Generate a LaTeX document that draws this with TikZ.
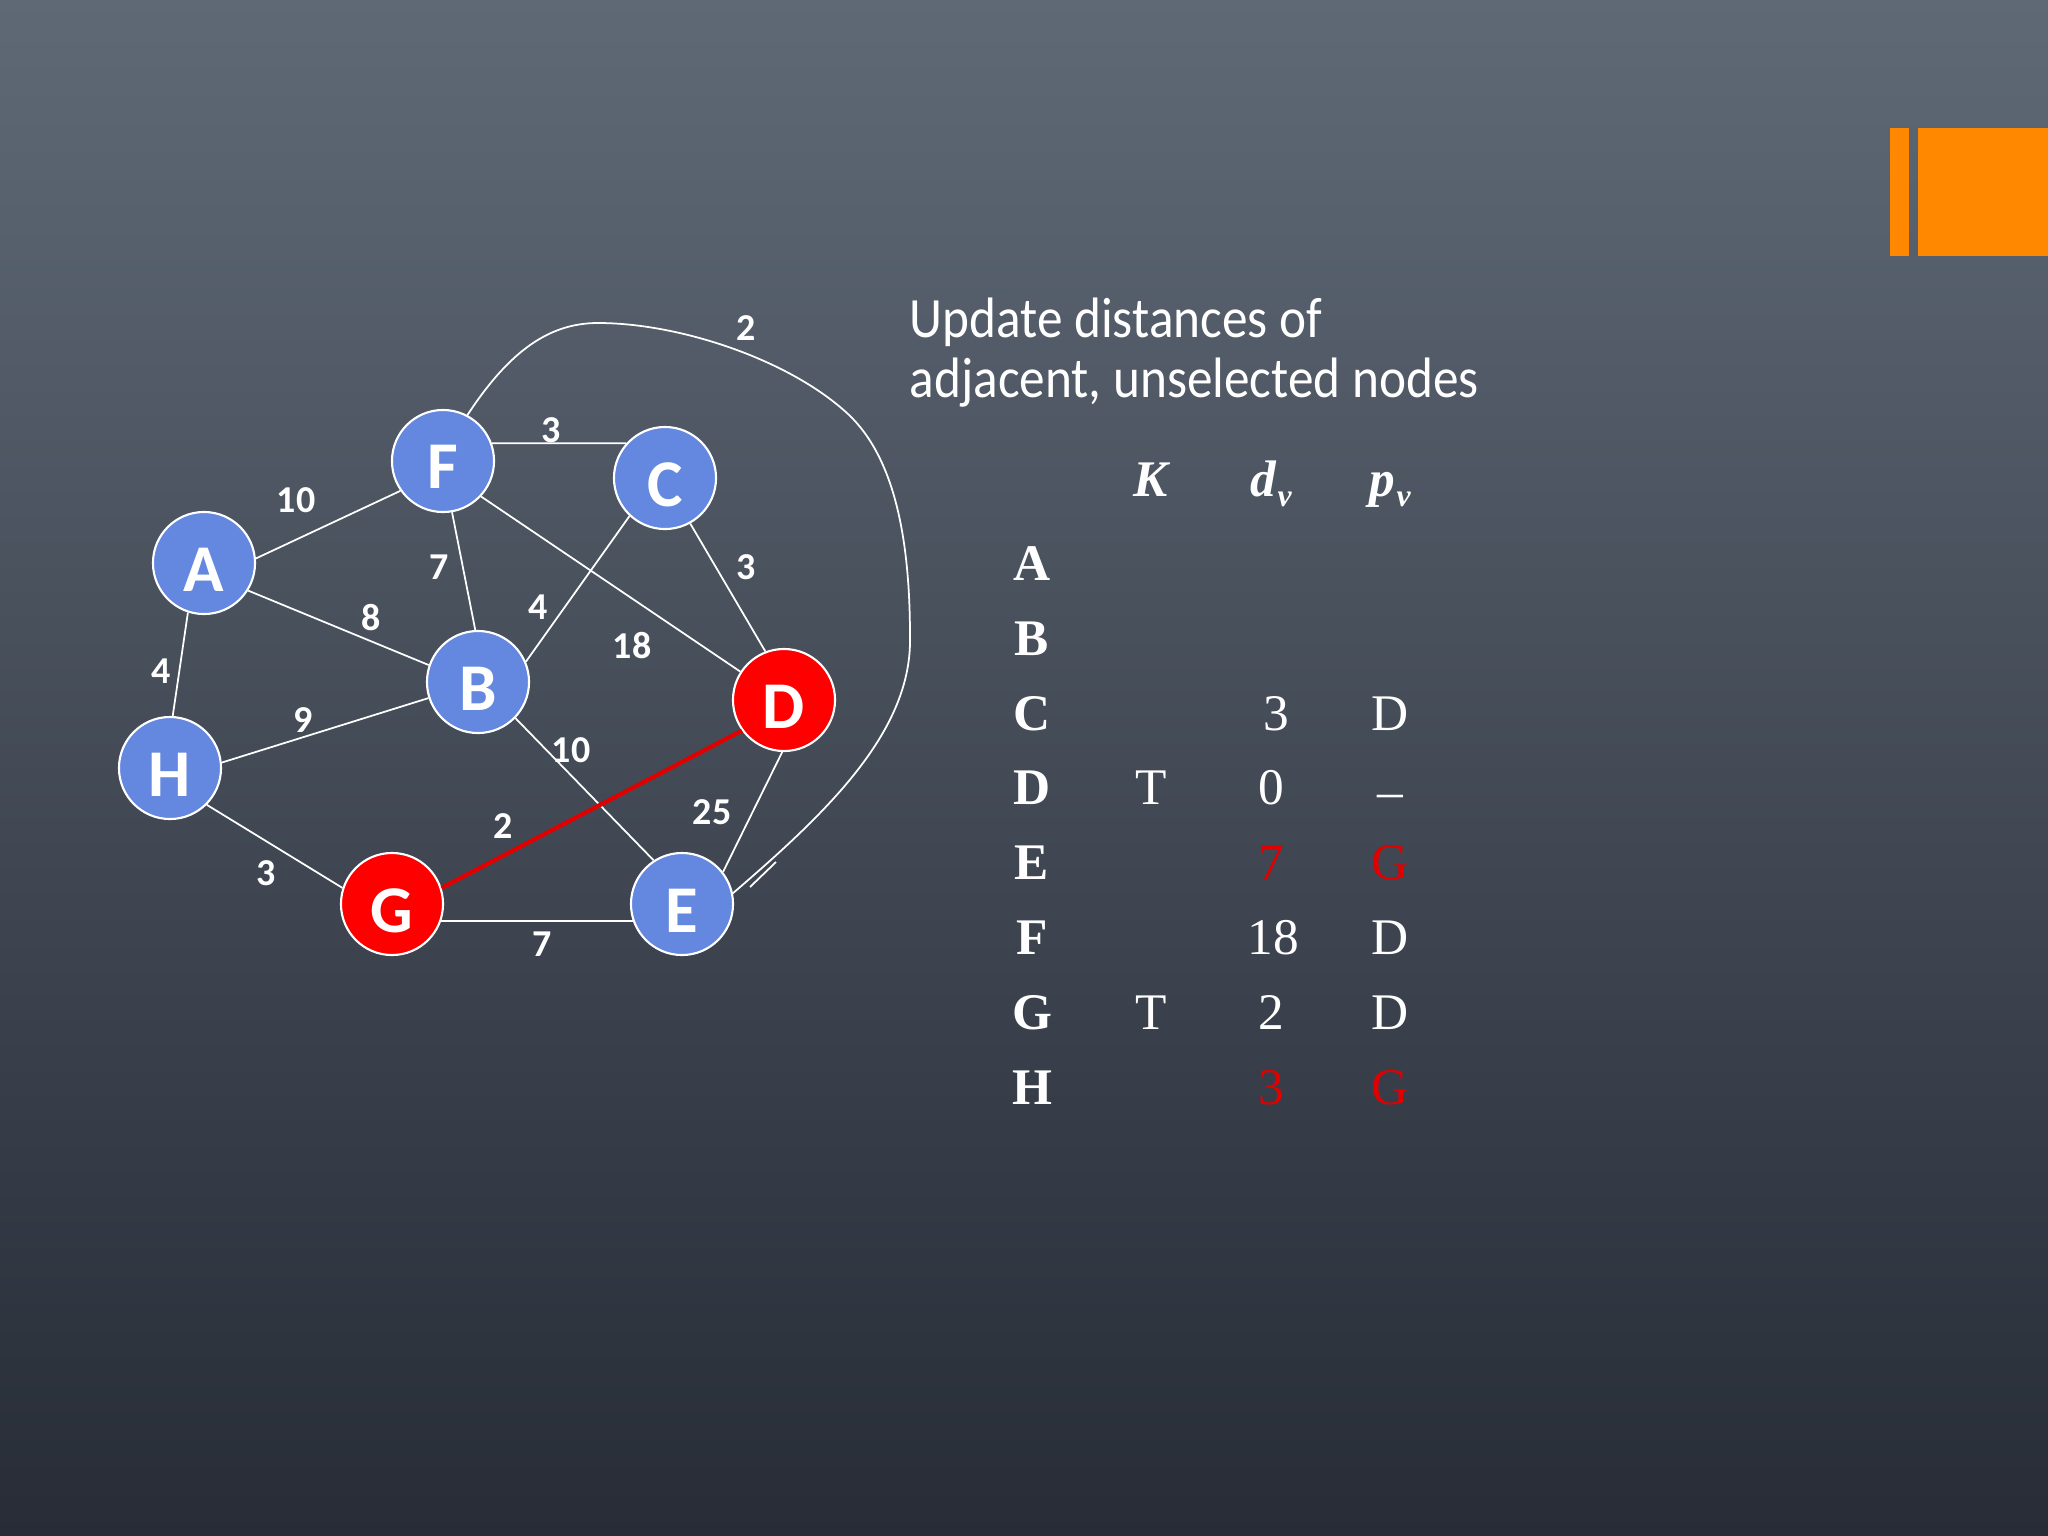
\documentclass[tikz,border=0pt]{standalone}
\usepackage{fontspec}
\setmainfont{Liberation Serif}
\newfontfamily\calib{Carlito}
\definecolor{bgtop}{RGB}{95,105,118}
\definecolor{bgbot}{RGB}{39,44,54}
\definecolor{nblue}{RGB}{100,136,224}
\definecolor{nred}{RGB}{255,0,0}
\definecolor{ered}{RGB}{225,0,0}
\definecolor{tred}{RGB}{225,0,0}
\definecolor{orng}{RGB}{255,136,0}
\newcommand{\vlet}[1]{\raisebox{-1.8pt}[\height][0pt]{#1}}
\tikzset{
  vert/.style={circle,draw=white,line width=0.6pt,minimum size=1.02cm,inner sep=0pt,
    text=white,font=\calib\bfseries\fontsize{19}{19}\selectfont},
  bluev/.style={vert,fill=nblue},
  redv/.style={vert,fill=nred},
  edge/.style={draw=white,line width=0.5pt},
  redge/.style={draw=ered,line width=1.2pt},
  lbl/.style={text=white,inner sep=0pt,font=\calib\bfseries\fontsize{10.8}{10.8}\selectfont},
  ttl/.style={text=white,inner sep=0pt,anchor=base west,font=\calib\fontsize{16.2}{17}\selectfont},
  rowh/.style={text=white,inner sep=0pt,anchor=base,font=\bfseries\fontsize{14.6}{14.6}\selectfont},
  cell/.style={text=white,inner sep=0pt,anchor=base,font=\fontsize{14.6}{14.6}\selectfont},
  rcell/.style={cell,text=tred},
  hdr/.style={text=white,inner sep=0pt,anchor=base,font=\bfseries\itshape\fontsize{14.6}{14.6}\selectfont}
}
\begin{document}
\begin{tikzpicture}[x=0.01cm,y=-0.01cm]
\useasboundingbox (0,0) rectangle (2048,1536);
\shade[top color=bgtop,bottom color=bgbot] (0,0) rectangle (2048,1536);
% orange marks
\fill[orng] (1890,128) rectangle (1909,256);
\fill[orng] (1918,128) rectangle (2048,256);
% nodes
\node[bluev] (F) at (443,461) {\vlet{F}};
\node[bluev] (C) at (665,478) {\vlet{C}};
\node[bluev] (A) at (204,563) {\vlet{A}};
\node[bluev] (B) at (478,682) {\vlet{B}};
\node[redv]  (D) at (784,700) {\vlet{D}};
\node[bluev] (H) at (170,768) {\vlet{H}};
\node[redv]  (G) at (392,904) {\vlet{G}};
\node[bluev] (E) at (682,904) {\vlet{E}};
% edges
\draw[edge] (F.20) -- (C.138);
\draw[edge] (A.5) -- (F.215);
\draw[edge] (A.-32) -- (B.161);
\draw[edge] (A.-108) -- (H.87);
\draw[edge] (F.-80) -- (B.93);
\draw[edge] (F.-43) -- (D.147);
\draw[edge] (C.227) -- (B.23);
\draw[edge] (C.-61) -- (D.111);
\draw[edge] (H.6) -- (B.198);
\draw[edge] (B.-44) -- (E.123);
\draw[edge] (D.-92) -- (E.38);
\draw[edge] (H.-45) -- (G.162);
\draw[edge] (G.-19) -- (E.199);
\draw[redge] (G.18) -- (D.216);
\draw[edge] (F.62) .. controls (510,350) and (550,323) .. (598,323)
  .. controls (680,323) and (790,360) .. (848,414)
  .. controls (895,458) and (910,540) .. (910,637)
  .. controls (912,730) and (830,810) .. (E.12);
\coordinate (t1) at (750,887);
\coordinate (t2) at (776,862);
\draw[edge] (t1) -- (t2);
% edge labels
\node[lbl] (w1) at (746,328) {2};
\node[lbl] (w2) at (551,430) {3};
\node[lbl] (w3) at (296,500) {10};
\node[lbl] (w4) at (439,567) {7};
\node[lbl] (w5) at (746,567) {3};
\node[lbl] (w6) at (371,618) {8};
\node[lbl] (w7) at (538,607) {4};
\node[lbl] (w8) at (632,646) {18};
\node[lbl] (w9) at (161,671) {4};
\node[lbl] (w10) at (303,720) {9};
\node[lbl] (w11) at (571,750) {10};
\node[lbl] (w12) at (503,826) {2};
\node[lbl] (w13) at (712,812) {25};
\node[lbl] (w14) at (266,873) {3};
\node[lbl] (w15) at (542,944) {7};
% title
\node[ttl] (t1a) at (909,337) {\scalebox{0.9}[1]{Update distances of}};
\node[ttl] (t1b) at (909,397) {\scalebox{0.9}[1]{adjacent, unselected nodes}};
% table header
\node[hdr] (hK) at (1151,496) {K};
\node[hdr] (hd) at (1271,496) {d\hspace{0.5pt}\raisebox{-0.45ex}{\fontsize{9}{9}\selectfont v}};
\node[hdr] (hp) at (1390,496) {p\hspace{0.5pt}\raisebox{-0.45ex}{\fontsize{9}{9}\selectfont v}};
% rows
\node[rowh] (rA) at (1032,580) {A};
\node[rowh] (rB) at (1032,655) {B};
\node[rowh] (rC) at (1032,730) {C};
\node[rowh] (rD) at (1032,804) {D};
\node[rowh] (rE) at (1032,879) {E};
\node[rowh] (rF) at (1032,954) {F};
\node[rowh] (rG) at (1032,1029) {G};
\node[rowh] (rH) at (1032,1104) {H};
\node[cell] (cC) at (1276,730) {3};
\node[cell] (pC) at (1390,730) {D};
\node[cell] (kD) at (1151,804) {T};
\node[cell] (cD) at (1271,804) {0};
\node[cell] (pD) at (1390,804) {\raisebox{-1.4pt}{–}};
\node[rcell] (cE) at (1271,879) {7};
\node[rcell] (pE) at (1390,879) {G};
\node[cell] (cF) at (1273,954) {18};
\node[cell] (pF) at (1390,954) {D};
\node[cell] (kG) at (1151,1029) {T};
\node[cell] (cG) at (1271,1029) {2};
\node[cell] (pG) at (1390,1029) {D};
\node[rcell] (cH) at (1271,1104) {3};
\node[rcell] (pH) at (1390,1104) {G};
\end{tikzpicture}
\end{document}
